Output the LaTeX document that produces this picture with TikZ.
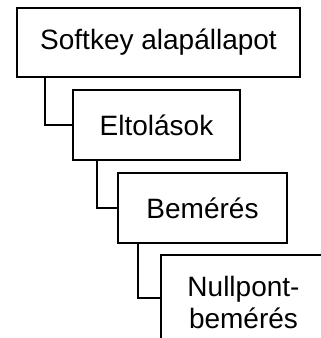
\documentclass[tikz,border=0pt]{standalone}
\usepackage{fontspec}
\setmainfont{Liberation Sans}
\begin{document}
\begin{tikzpicture}[x=1pt,y=-1pt,
  box/.style={draw,line width=2pt,inner sep=0pt,align=center,font=\fontsize{28}{32}\selectfont},
  link/.style={line width=2pt}]
\useasboundingbox (0,0) rectangle (321,338);
\clip (0,0) rectangle (321,338);
\node[box,minimum width=283pt,minimum height=69pt] (b1) at (158.5,42.5) {Softkey alapállapot};
\node[box,minimum width=167pt,minimum height=70pt] (b2) at (156.5,125) {Eltolások};
\node[box,minimum width=169pt,minimum height=70pt] (b3) at (202.5,208) {Bemérés};
\node[box,minimum width=165pt,minimum height=95pt] (b4) at (243.5,302.5) {Nullpont-\\bemérés};
\coordinate (j4) at (161,298);
\draw[link] (b1.south -| 45,0) |- (b2.west);
\draw[link] (b2.south -| 97,0) |- (b3.west);
\draw[link] (b3.south -| 138,0) |- (j4);
\end{tikzpicture}
\end{document}
